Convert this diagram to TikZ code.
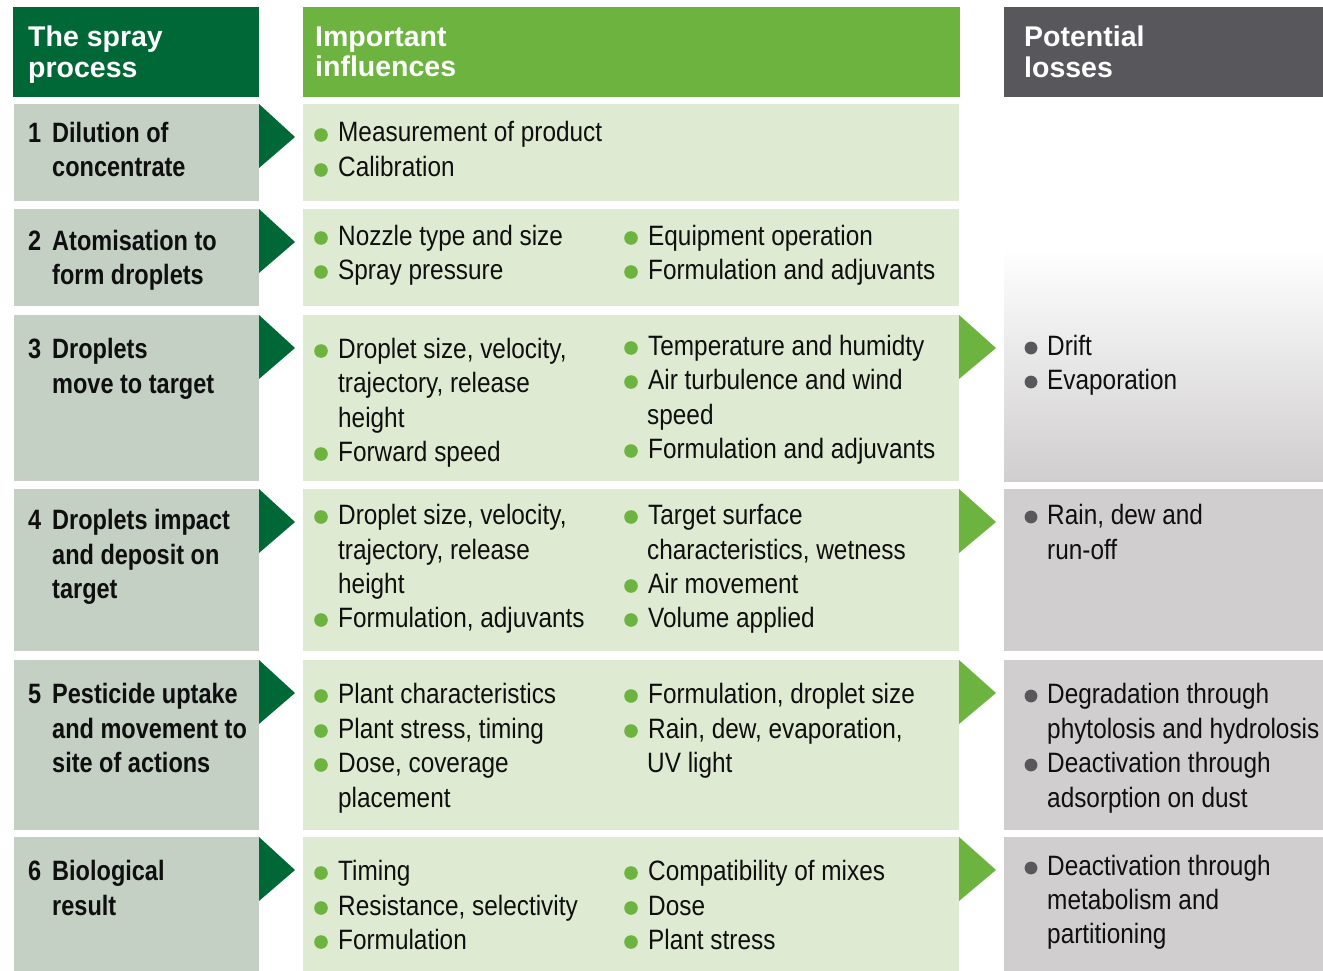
\documentclass[tikz,border=0pt]{standalone}
\usepackage{fontspec}
\setmainfont{Liberation Sans}
\newfontfamily\bodyf{Liberation Sans}[FakeStretch=0.87]
\newfontfamily\stepf{Liberation Sans}[FakeStretch=0.84]
\definecolor{dgreen}{RGB}{0,104,55}
\definecolor{lgreen}{RGB}{108,179,63}
\definecolor{hgrey}{RGB}{88,87,91}
\definecolor{cA}{RGB}{197,208,196}
\definecolor{cB}{RGB}{223,234,210}
\definecolor{cC}{RGB}{208,206,207}
\definecolor{txtc}{RGB}{15,15,15}
\tikzset{
  txt/.style={anchor=base west, inner sep=0pt, text=txtc, font=\bodyf\fontsize{28}{34}\selectfont},
  stp/.style={anchor=base west, inner sep=0pt, text=txtc, font=\stepf\bfseries\fontsize{28}{34}\selectfont},
  hdr/.style={anchor=base west, inner sep=0pt, text=white, font=\bfseries\fontsize{28.5}{31}\selectfont},
  cellbox/.style={draw=none, inner sep=0pt, outer sep=0pt, anchor=north west},
}
\newcommand\cell[6]{\node[cellbox, fill=#2, minimum width={(#5)-(#3)}, minimum height={(#6)-(#4)}] (#1) at (#3,#4) {};}
\newcommand\gbul[4]{\fill[lgreen] (#1,#2-7) circle[radius=6.8pt]; \node[txt] (#3) at (#1+17,#2) {#4};}
\newcommand\kbul[4]{\fill[hgrey] (#1,#2-7) circle[radius=6.4pt]; \node[txt] (#3) at (#1+16,#2) {#4};}
\newcommand\cont[4]{\node[txt] (#3) at (#1,#2) {#4};}
\newcommand\stepl[4]{\node[stp] (#3) at (#1,#2) {#4};}
\newcommand\larr[1]{\fill[dgreen] (#1.north east) -- ++(36,33) -- ++(-36,31) -- cycle;}
\newcommand\rarr[1]{\fill[lgreen] (#1.north east) -- ++(37,33) -- ++(-37,31) -- cycle;}
\begin{document}
\begin{tikzpicture}[x=1pt,y=-1pt]
\useasboundingbox (0,0) rectangle (1323,971);
\fill[white] (0,0) rectangle (1323,971);
% headers
\cell{hA}{dgreen}{13}{7}{259}{97}
\cell{hB}{lgreen}{303}{7}{960}{97}
\cell{hC}{hgrey}{1004}{7}{1323}{97}
\node[hdr] (hA1) at (28,47) {The spray};
\node[hdr] (hA2) at (28,78) {process};
\node[hdr] (hB1) at (315,47) {Important};
\node[hdr] (hB2) at (315,77) {influences};
\node[hdr] (hC1) at (1024,47) {Potential};
\node[hdr] (hC2) at (1024,78) {losses};
% column 1 cells
\cell{a1}{cA}{14}{104}{259}{201}
\cell{a2}{cA}{14}{209}{259}{306}
\cell{a3}{cA}{14}{315}{259}{481}
\cell{a4}{cA}{14}{489}{259}{651}
\cell{a5}{cA}{14}{660}{259}{830}
\cell{a6}{cA}{14}{837}{259}{971}
% column 2 cells
\cell{b1}{cB}{303}{104}{959}{201}
\cell{b2}{cB}{303}{209}{959}{306}
\cell{b3}{cB}{303}{315}{959}{481}
\cell{b4}{cB}{303}{489}{959}{651}
\cell{b5}{cB}{303}{660}{959}{830}
\cell{b6}{cB}{303}{837}{959}{971}
% column 3 cells
\shade[top color=white, bottom color=cC] (1004,248) rectangle (1323,481);
\coordinate (c3) at (1004,315);
\cell{c4}{cC}{1004}{489}{1323}{651}
\cell{c5}{cC}{1004}{660}{1323}{830}
\cell{c6}{cC}{1004}{837}{1323}{971}
% arrows
\larr{a1}\larr{a2}\larr{a3}\larr{a4}\larr{a5}\larr{a6}
\rarr{b3}\rarr{b4}\rarr{b5}\rarr{b6}
% column 1 text
\stepl{28}{143}{n1}{1}\stepl{52}{143}{s1a}{Dilution of}\stepl{52}{177}{s1b}{concentrate}
\stepl{28}{250}{n2}{2}\stepl{52}{250}{s2a}{Atomisation to}\stepl{52}{284}{s2b}{form droplets}
\stepl{28}{358}{n3}{3}\stepl{52}{358}{s3a}{Droplets}\stepl{52}{393}{s3b}{move to target}
\stepl{28}{529}{n4}{4}\stepl{52}{529}{s4a}{Droplets impact}\stepl{52}{564}{s4b}{and deposit on}\stepl{52}{598}{s4c}{target}
\stepl{28}{703}{n5}{5}\stepl{52}{703}{s5a}{Pesticide uptake}\stepl{52}{738}{s5b}{and movement to}\stepl{52}{772}{s5c}{site of actions}
\stepl{28}{880}{n6}{6}\stepl{52}{880}{s6a}{Biological}\stepl{52}{915}{s6b}{result}
% column 2 text
\gbul{321}{142}{i1a}{Measurement of product}
\gbul{321}{177}{i1b}{Calibration}
\gbul{321}{245}{i2a}{Nozzle type and size}
\gbul{321}{279}{i2b}{Spray pressure}
\gbul{631}{245}{i2c}{Equipment operation}
\gbul{631}{279}{i2d}{Formulation and adjuvants}
\gbul{321}{358}{i3a}{Droplet size, velocity,}
\cont{338}{392}{i3b}{trajectory, release}
\cont{338}{427}{i3c}{height}
\gbul{321}{461}{i3d}{Forward speed}
\gbul{631}{355}{i3e}{Temperature and humidty}
\gbul{631}{389}{i3f}{Air turbulence and wind}
\cont{647}{424}{i3g}{speed}
\gbul{631}{458}{i3h}{Formulation and adjuvants}
\gbul{321}{524}{i4a}{Droplet size, velocity,}
\cont{338}{559}{i4b}{trajectory, release}
\cont{338}{593}{i4c}{height}
\gbul{321}{627}{i4d}{Formulation, adjuvants}
\gbul{631}{524}{i4e}{Target surface}
\cont{647}{559}{i4f}{characteristics, wetness}
\gbul{631}{593}{i4g}{Air movement}
\gbul{631}{627}{i4h}{Volume applied}
\gbul{321}{703}{i5a}{Plant characteristics}
\gbul{321}{738}{i5b}{Plant stress, timing}
\gbul{321}{772}{i5c}{Dose, coverage}
\cont{338}{807}{i5d}{placement}
\gbul{631}{703}{i5e}{Formulation, droplet size}
\gbul{631}{738}{i5f}{Rain, dew, evaporation,}
\cont{647}{772}{i5g}{UV light}
\gbul{321}{880}{i6a}{Timing}
\gbul{321}{915}{i6b}{Resistance, selectivity}
\gbul{321}{949}{i6c}{Formulation}
\gbul{631}{880}{i6d}{Compatibility of mixes}
\gbul{631}{915}{i6e}{Dose}
\gbul{631}{949}{i6f}{Plant stress}
% column 3 text
\kbul{1031}{355}{l3a}{Drift}
\kbul{1031}{389}{l3b}{Evaporation}
\kbul{1031}{524}{l4a}{Rain, dew and}
\cont{1047}{559}{l4b}{run-off}
\kbul{1031}{703}{l5a}{Degradation through}
\cont{1047}{738}{l5b}{phytolosis and hydrolosis}
\kbul{1031}{772}{l5c}{Deactivation through}
\cont{1047}{807}{l5d}{adsorption on dust}
\kbul{1031}{875}{l6a}{Deactivation through}
\cont{1047}{909}{l6b}{metabolism and}
\cont{1047}{943}{l6c}{partitioning}
\end{tikzpicture}
\end{document}
